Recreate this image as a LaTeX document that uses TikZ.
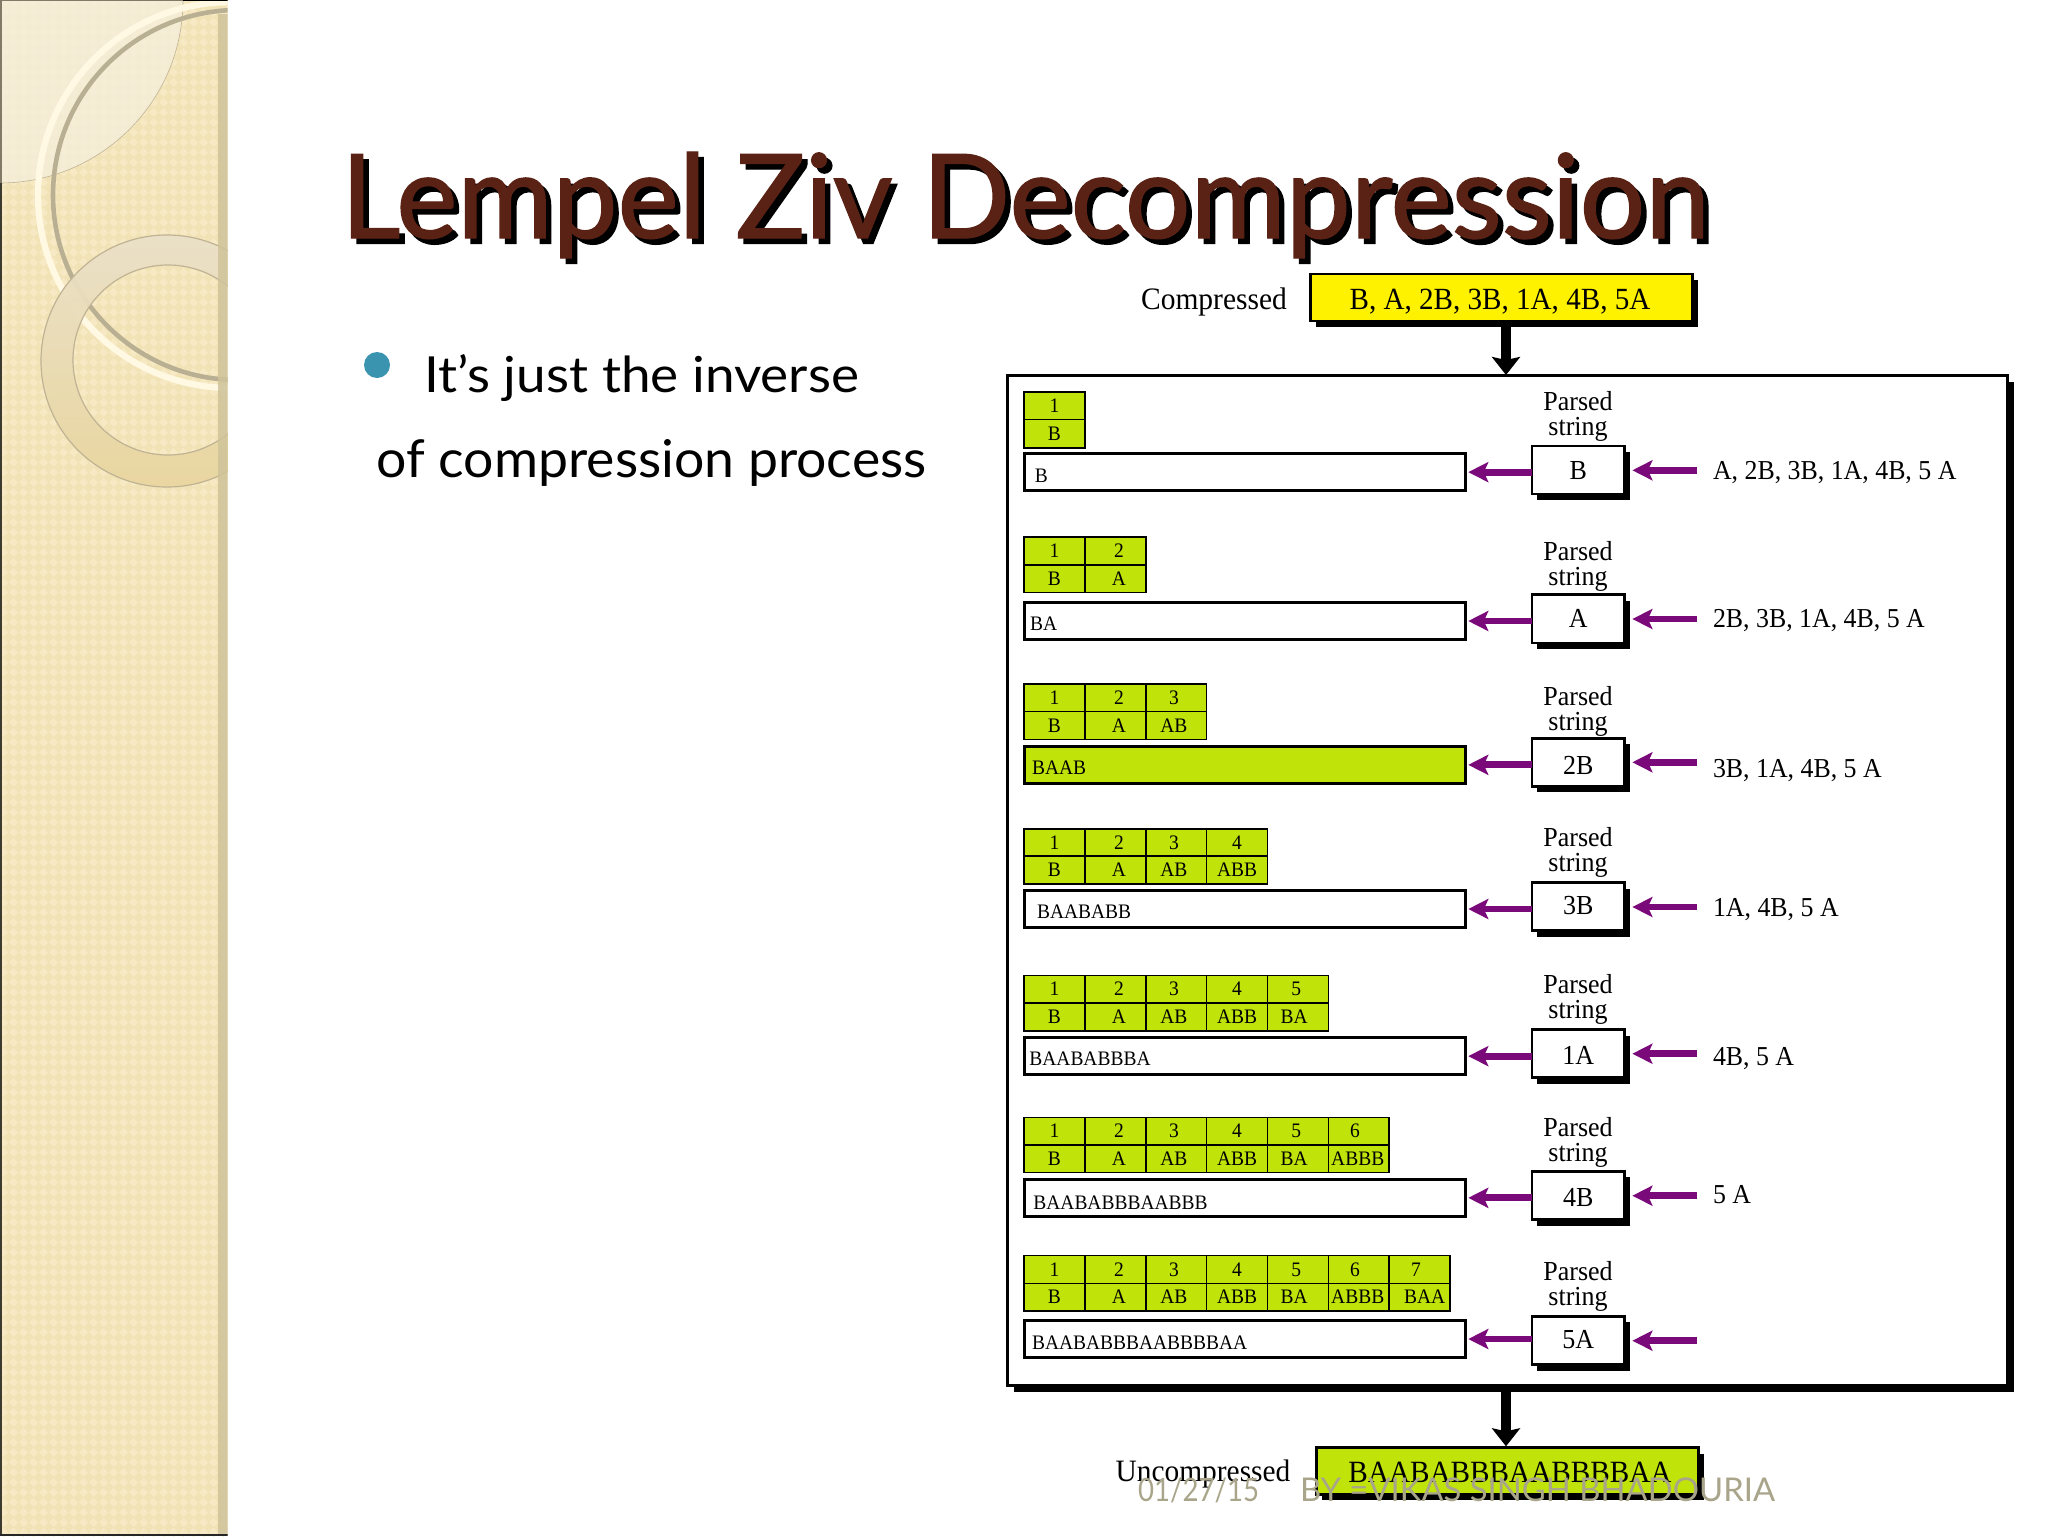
\documentclass[tikz,border=0pt]{standalone}
\usepackage{fontspec}
\usepackage{graphicx}
\usetikzlibrary{arrows.meta,shadows,patterns}
\setmainfont{Liberation Serif}[FakeStretch=0.945]
\newfontfamily\gill{Lato}
\newfontfamily\gilltitle[FakeBold=1.2]{Lato}
\definecolor{sbase}{HTML}{F2E3B7}
\definecolor{slight}{HTML}{F6E9C3}
\definecolor{sdisk}{HTML}{F5EEDB}
\definecolor{sband}{HTML}{CFC39A}
\definecolor{scream}{HTML}{FFF8E2}
\definecolor{sgray}{HTML}{B9AF93}
\definecolor{ringedge}{HTML}{BFB394}
\definecolor{ringtop}{HTML}{EAE0C8}
\definecolor{ringbot}{HTML}{E9D69F}
\definecolor{titlebrown}{HTML}{5A2214}
\definecolor{bulletblue}{HTML}{3A94B0}
\definecolor{lime}{HTML}{C0E30A}
\definecolor{parrow}{HTML}{7A0A7A}
\definecolor{foot}{HTML}{A9A58B}
\pgfdeclarepatternformonly{sbcheck}{\pgfqpoint{0pt}{0pt}}{\pgfqpoint{5pt}{5pt}}{\pgfqpoint{5pt}{5pt}}{%
  \pgfpathmoveto{\pgfqpoint{2.5pt}{0pt}}%
  \pgfpathlineto{\pgfqpoint{5pt}{2.5pt}}%
  \pgfpathlineto{\pgfqpoint{2.5pt}{5pt}}%
  \pgfpathlineto{\pgfqpoint{0pt}{2.5pt}}%
  \pgfpathclose\pgfusepath{fill}}
\tikzset{
  txt/.style={inner sep=0pt,outer sep=0pt},
  sh/.style={general shadow={fill=black,shadow xshift=2.7pt,shadow yshift=-3pt}},
  cell/.style={draw=black,line width=.8pt,fill=lime,inner sep=0pt,minimum width=30.43pt},
  rowbox/.style={draw=black,line width=1.5pt,inner sep=0pt,minimum width=220.25pt,outer sep=0pt},
  parsedbox/.style={draw=black,line width=1.3pt,fill=white,inner sep=0pt,minimum width=46.15pt,outer sep=0pt,sh,
     text height=9.1pt,text depth=0pt,font=\fontsize{13.75}{13.75}\selectfont},
  parr/.style={draw=parrow,line width=3.4pt,-{Stealth[length=10pt,width=10pt,inset=2.2pt]}},
  bigarr/.style={draw=black,line width=4.7pt,-{Stealth[length=9pt,width=14pt,inset=1.5pt]}},
}
\begin{document}
\begin{tikzpicture}[x=0.5pt,y=-0.5pt]
\useasboundingbox (0,0) rectangle (2048,1536);
\fill[white] (0,0) rectangle (2048,1536);
% --- sidebar
\begin{scope}
\clip (0,0) rectangle (227.5,1536);
\fill[sbase] (0,0) rectangle (228,1536);
\fill[pattern=sbcheck,pattern color=slight] (0,0) rectangle (228,1536);
\fill[sdisk,opacity=.8] (0,0) circle[radius=183];
\draw[ringedge,line width=.3pt] (0,0) circle[radius=183];
\draw[scream,line width=3.2pt] (231,195) circle[radius=193];
\draw[sgray,line width=2.3pt] (238,195) circle[radius=185];
\path[even odd rule,top color=ringtop,bottom color=ringbot,opacity=.95]
   (167,361) circle[radius=126] (168,360) circle[radius=95];
\draw[ringedge,line width=.6pt] (167,361) circle[radius=126];
\draw[ringedge,line width=.6pt] (168,360) circle[radius=95];
\fill[sband,opacity=.85] (218,14) rectangle (227.5,1536);
\fill[black!75!sbase] (0,183) rectangle (1.5,1536);
\fill[sgray!70!black] (0,0) rectangle (183,1.5);
\fill[sgray!70!black] (0,0) rectangle (1.5,183);
\fill[black] (183,0) rectangle (228,1.5);
\fill[black!85] (0,1534) rectangle (228,1536);
\end{scope}
% --- title
\node[txt,anchor=base west,text=black] (titleshadow) at (346.5,243.5)
  {\resizebox{684pt}{43pt}{\gilltitle Lempel Ziv Decompression}};
\node[txt,anchor=base west,text=titlebrown] (title) at (341,238)
  {\resizebox{684pt}{43pt}{\gilltitle Lempel Ziv Decompression}};
% --- bullet text
\fill[bulletblue] (377,365) circle[radius=13];
\node[txt,anchor=base west] (line1) at (424,392.7)
  {\resizebox{217.5pt}{19pt}{\gill\fontsize{26}{26}\selectfont It’s just the inverse}};
\node[txt,anchor=base west] (line2) at (376.5,477.7)
  {\resizebox{275pt}{19pt}{\gill\fontsize{26}{26}\selectfont of compression process}};
% --- main diagram
\node[draw=black,line width=1.3pt,fill=yellow,inner sep=0pt,minimum width=191pt,minimum height=23.5pt,sh] (compressed) at (1501.25,297.5) {};
\node[txt,font=\fontsize{15.4}{15.4}\selectfont,anchor=base] (ctext) at (1500,309.5) {B, A, 2B, 3B, 1A, 4B, 5A};
\node[txt,font=\fontsize{15.6}{15.6}\selectfont,anchor=base] (clabel) at (1214,309) {Compressed};
\node[draw=black,line width=1.5pt,fill=white,inner sep=0pt,outer sep=0pt,minimum width=500pt,minimum height=505pt,
      general shadow={fill=black,shadow xshift=3pt,shadow yshift=-3.5pt}] (frame) at (1507.5,880) {};
\draw[bigarr] ([xshift=-.75pt]compressed.south -| frame.north) -- ([xshift=-.75pt]frame.north);
\foreach \rN/\tA/\tB/\tC/\bA/\bB/\pA/\pB/\pD/\pT/\rY/\bX/\bY/\sY/\rC/\rT/\bT/\bF in {
 1/391.7/419.3/447.7/453.3/491/445.7/494.3/0/B/470.3/1034.8/475.7/410/470.7/{A, 2B, 3B, 1A, 4B, 5 A}/B/white,
 2/536.7/564.7/592.3/602/640/594.3/643.3/0/A/619/1030/624/560/618.3/{2B, 3B, 1A, 4B, 5 A}/BA/white,
 3/684/711.3/739.3/746/783.7/738/786.7/-1.7/2B/762.3/1032/767.7/705/768.3/{3B, 1A, 4B, 5 A}/BAAB/lime,
 4/828.7/856/883.7/890.3/927.7/882.3/931/0.5/3B/907/1037/911.7/846.7/907.3/{1A, 4B, 5 A}/BAABABB/white,
 5/975.3/1003/1031/1037.3/1075/1029.3/1078/-1/1A/1053.7/1029.4/1059/993.3/1056.3/{4B, 5 A}/BAABABBBA/white,
 6/1117.3/1144.7/1172.3/1179/1216.7/1171/1220/-0.75/4B/1195.7/1033.4/1202.3/1136.7/1194.3/{5 A}/BAABABBBAABBB/white,
 7/1255.3/1283.3/1311/1320/1358/1316/1365/0.75/5A/1340.7/1032/1342.3/1280.7/1340/{}/BAABABBBAABBBBAA/white}
{
  \pgfmathsetmacro\yH{(\tA+\tB)/2}
  \pgfmathsetmacro\yL{(\tB+\tC)/2}
  \pgfmathsetmacro\hH{(\tB-\tA)*.5}
  \pgfmathsetmacro\hL{(\tC-\tB)*.5}
  \foreach \i/\dd/\ld/\ll in {1/0/0/B,2/3.7/3.7/A,3/-2.3/-2.3/AB,4/0/0/ABB,5/-1.7/-3.7/BA,6/-3.7/-1/ABBB,7/-3.7/5/BAA}{
    \ifnum\i>\rN\else
      \pgfmathsetmacro\cx{1024+60.86*(\i-.5)}
      \node[cell,minimum height=\hH pt] (h\rN-\i) at (\cx,\yH) {};
      \node[cell,minimum height=\hL pt] (l\rN-\i) at (\cx,\yL) {};
      \pgfmathsetmacro\bh{\yH+6.8}
      \pgfmathsetmacro\bl{\yL+6.8}
      \node[txt,anchor=base,font=\fontsize{10.3}{10.3}\selectfont] (dn\rN-\i) at (\cx+\dd,\bh) {\i};
      \node[txt,anchor=base,font=\fontsize{10.3}{10.3}\selectfont] (ln\rN-\i) at (\cx+\ld,\bl) {\ll};
    \fi
  }
  \pgfmathsetmacro\bc{(\bA+\bB)/2}
  \pgfmathsetmacro\bh{(\bB-\bA-.75)*.5}
  \node[rowbox,fill=\bF,minimum height=\bh pt] (box\rN) at (1245,\bc) {};
  \pgfmathsetmacro\bb{\bY+6.8}
  \node[txt,anchor=base west,font=\fontsize{10.3}{10.3}\selectfont] (boxtext\rN) at (\bX,\bb) {\bT};
  \pgfmathsetmacro\pc{(\pA+\pB)/2}
  \pgfmathsetmacro\ph{(\pB-\pA-.65)*.5}
  \node[parsedbox,minimum height=\ph pt] (parsed\rN) at (1578.2,\pc) {\raisebox{\pD pt}{\pT}};
  \pgfmathsetmacro\sb{\sY+25}
  \node[txt,anchor=base,align=center,font=\fontsize{13.75}{12.5}\selectfont] (plabel\rN) at (1578,\sb) {Parsed\\string};
  \coordinate (src\rN) at (1697,\rY);
  \draw[parr,shorten >=4pt] (src\rN) -- (parsed\rN.east |- src\rN);
  \draw[parr,shorten >=1.5pt] (parsed\rN.west |- box\rN.east) -- (box\rN.east);
  \pgfmathsetmacro\rb{\rC+9.1}
  \node[txt,anchor=base west,font=\fontsize{13.68}{13.68}\selectfont] (rem\rN) at (1713,\rb) {\rT};
}
\node[draw=black,line width=1.3pt,fill=lime,inner sep=0pt,minimum width=191pt,minimum height=23.4pt,sh] (uncompressed) at (1507.25,1471) {};
\draw[bigarr] ([xshift=-.75pt]frame.south) -- ([xshift=-.75pt]uncompressed.north -| frame.south);
\node[txt,anchor=base,font=\fontsize{15.46}{15.46}\selectfont] (utext) at (1510,1482.5) {BAABABBBAABBBBAA};
\node[txt,anchor=base,font=\fontsize{15.56}{15.56}\selectfont] (ulabel) at (1203,1481.7) {Uncompressed};
% --- footer
\node[txt,anchor=base west,text=foot] (date) at (1138,1501.7)
  {\resizebox{60.5pt}{11.85pt}{\gill\fontsize{16}{16}\selectfont 01/27/15}};
\node[txt,anchor=base west,text=foot] (author) at (1300,1501.7)
  {\resizebox{237.5pt}{11.85pt}{\gill\fontsize{16}{16}\selectfont BY =VIKAS SINGH BHADOURIA}};
\end{tikzpicture}
\end{document}
